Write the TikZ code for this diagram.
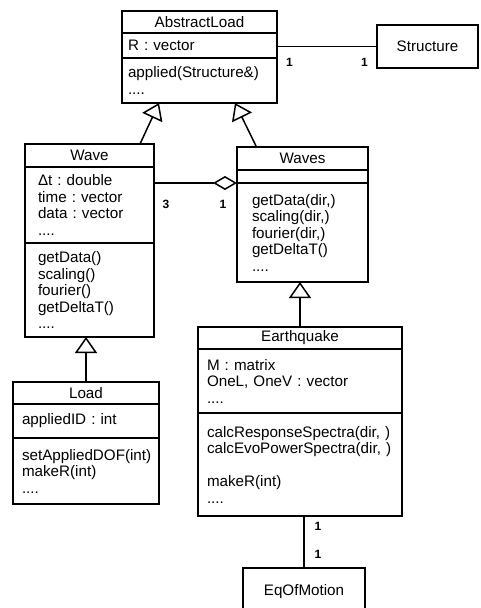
\documentclass[tikz,border=0pt]{standalone}
\usepackage{fontspec}
\setmainfont{Liberation Sans}
\usepackage{tikz}
\usetikzlibrary{arrows.meta,positioning}

\begin{document}
\frenchspacing
\begin{tikzpicture}[
    x=1pt,y=-1pt,
    box/.style={draw,line width=1.5pt,outer sep=0pt,inner xsep=10pt,inner ysep=0pt,
                font=\fontsize{15.2}{16.5}\selectfont},
    head/.style={box,align=center},
    body/.style={box,align=left},
    mult/.style={font=\fontsize{12}{12}\selectfont\bfseries,inner sep=0pt},
    link/.style={line width=1.5pt},
    inh/.style={link,-{Triangle[open,length=16pt,width=22pt]}},
    agg/.style={link,{Diamond[open,length=24pt,width=14pt]}-},
  ]
  \useasboundingbox (0,0) rectangle (480,608);
  \clip (0,0) rectangle (480,608);

  % classes
  \node[head,minimum width=155pt,minimum height=22pt] (al) at (199.5,22) {AbstractLoad};
  \node[body,inner xsep=6pt,text width=143pt,minimum height=25pt,below=0pt of al] (al-a) {R : vector};
  \node[body,inner xsep=6pt,text width=143pt,minimum height=45pt,below=0pt of al-a] (al-m)
    {applied(Structure\&)\\....};

  \node[head,minimum width=101pt,minimum height=43pt] (st) at (427.5,46.5) {Structure};

  \node[head,minimum width=129pt,minimum height=23pt] (wave) at (89.5,155.5) {Wave};
  \node[body,inner xsep=13pt,text width=103pt,minimum height=76pt,below=0pt of wave] (wave-a)
    {Δt : double\\time : vector\\data : vector\\....};
  \node[body,inner xsep=13pt,text width=103pt,minimum height=94pt,below=0pt of wave-a] (wave-m)
    {getData()\\scaling()\\fourier()\\getDeltaT()\\....};

  \node[head,minimum width=131pt,minimum height=23pt] (waves) at (302.5,158.5) {Waves};
  \node[body,inner xsep=15pt,text width=101pt,minimum height=13pt,below=0pt of waves] (waves-a) {};
  \node[body,inner xsep=15pt,text width=101pt,minimum height=99pt,below=0pt of waves-a] (waves-m)
    {getData(dir,)\\scaling(dir,)\\fourier(dir,)\\getDeltaT()\\....};

  \node[head,minimum width=146pt,minimum height=22pt] (load) at (86,393) {Load};
  \node[body,inner xsep=9pt,text width=128pt,minimum height=34pt,below=0pt of load] (load-a)
    {appliedID : int};
  \node[body,inner xsep=9pt,text width=128pt,minimum height=66pt,below=0pt of load-a] (load-m)
    {setAppliedDOF(int)\\makeR(int)\\....};

  \node[head,minimum width=204pt,minimum height=22pt] (eq) at (300,338) {Earthquake};
  \node[body,inner xsep=9pt,text width=186pt,minimum height=64pt,below=0pt of eq] (eq-a)
    {M : matrix\\OneL, OneV : vector\\....};
  \node[body,inner xsep=9pt,text width=186pt,minimum height=103pt,below=0pt of eq-a] (eq-m)
    {calcResponseSpectra(dir, )\\calcEvoPowerSpectra(dir, )\\[16.5pt]makeR(int)\\....};

  \node[head,minimum width=122pt,minimum height=48pt] (eom) at (304,592) {EqOfMotion};

  % relations
  \draw[link] (al-a.east |- st.west) -- (st.west);
  \draw[agg] (waves-m.north west) -- (wave-a.east |- waves-m.north west);
  \draw[inh] ([xshift=-14pt]wave.north east) -- ([xshift=-40.5pt]al-m.south);
  \draw[inh] ([xshift=-46pt]waves.north) -- ([xshift=35.5pt]al-m.south);
  \draw[inh] (load.north) -- (load.north |- wave-m.south);
  \draw[inh] (eq.north) -- (eq.north |- waves-m.south);
  \draw[link] (eq-m.south -| eom.north) -- (eom.north);

  % multiplicities
  \node[mult] (al-n)    at (289.5,62.5) {1};
  \node[mult] (st-n)    at (364.5,62.5) {1};
  \node[mult] (wave-n)  at (166,204)    {3};
  \node[mult] (waves-n) at (223,204)    {1};
  \node[mult] (eq-n)    at (318,526)    {1};
  \node[mult] (eom-n)   at (318,554)    {1};
\end{tikzpicture}
\end{document}
